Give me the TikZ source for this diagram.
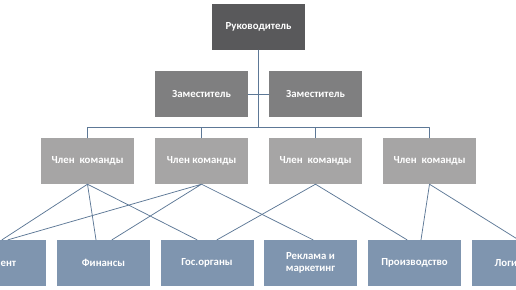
\documentclass[tikz,border=0pt]{standalone}
\usepackage{fontspec}
\setmainfont{Carlito}
\definecolor{boss}{HTML}{59595B}
\definecolor{zam}{HTML}{7F7F80}
\definecolor{chl}{HTML}{A6A5A5}
\definecolor{otd}{HTML}{7F95AF}
\definecolor{lin}{HTML}{5D7896}
\tikzset{
  box/.style={minimum width=93pt, minimum height=46pt, inner sep=0pt, text=white, align=center},
  ln/.style={draw=lin, line width=0.75pt}
}
\begin{document}
\begin{tikzpicture}[x=1pt, y=-1pt, font=\bfseries\fontsize{10.8}{12.5}\selectfont, line join=round, line cap=round]
	\useasboundingbox (0,0) rectangle (516,289);
	\clip (0,0) rectangle (516,289);
	\node[box, fill=boss] (ruk) at (258.5,27) {Руководитель};
	\node[box, fill=zam] (zam1) at (201.5,94) {Заместитель};
	\node[box, fill=zam] (zam2) at (315.5,94) {Заместитель};
	\foreach \x/\n/\t in {87.5/1/{Член\ \ команды}, 201.5/2/{\raisebox{3pt}{Член команды}}, 315.5/3/{Член\ \ команды}, 429.5/4/{Член\ \ команды}}
		\node[box, fill=chl] (ch\n) at (\x,161) {\t};
	\path (-0.5,263) node[box, fill=otd] (kli) {Клиент}
		(103.5,263) node[box, fill=otd] (fin) {Финансы}
		(207,263) node[box, fill=otd] (gos) {Гос.органы}
		(310.5,263) node[box, fill=otd] (rek) {Реклама и\\маркетинг}
		(414.5,263) node[box, fill=otd] (pro) {Производство}
		(518.5,263) node[box, fill=otd] (log) {Логистика};
	% дерево
	\foreach \n in {1,...,4} \draw[ln] (ch\n.north) -- ++(0,-10) -| (ruk.south);
	\draw[ln] (zam1.east) -- (zam2.west);
	% связи
	\draw[ln] (ch1.south) -- ([xshift=2.5pt]kli.north) (ch1.south) -- ([xshift=-7.5pt]fin.north) (ch1.south) -- ([xshift=-10pt]gos.north);
	\draw[ln] (ch2.south) -- ([xshift=8.5pt]kli.north) (ch2.south) -- ([xshift=8.5pt]fin.north) (ch2.south) -- ([xshift=2.5pt]rek.north);
	\draw[ln] (ch3.south) -- ([xshift=10pt]gos.north) (ch3.south) -- ([xshift=-7.5pt]pro.north);
	\draw[ln] (ch4.south) -- ([xshift=6.5pt]pro.north) (ch4.south) -- (log.north);
\end{tikzpicture}
\end{document}
